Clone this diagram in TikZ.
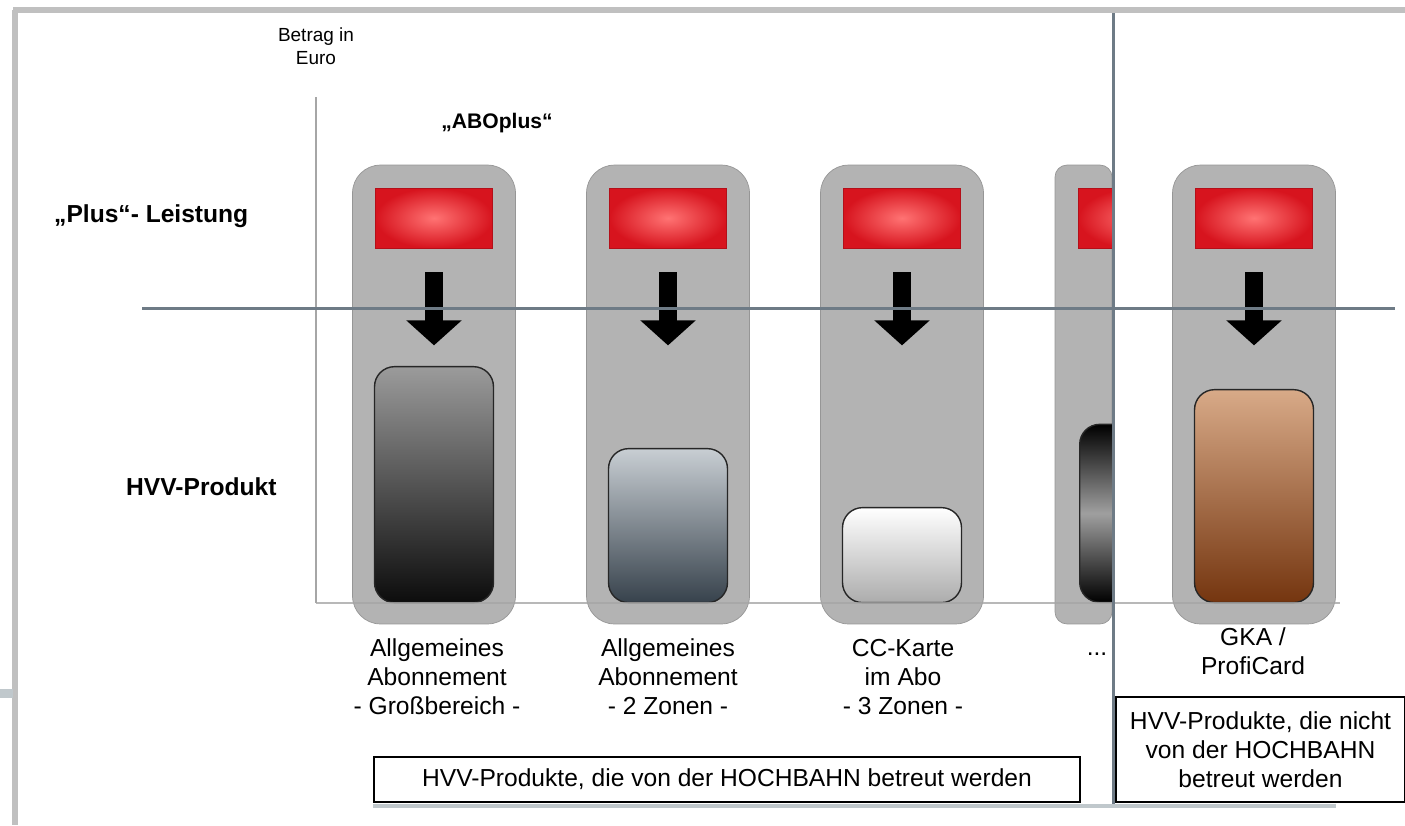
\documentclass[tikz,border=0pt]{standalone}
\usepackage{fontspec}
\setmainfont{Liberation Sans}
\definecolor{CardGray}{RGB}{179,179,179}
\definecolor{CardEdge}{RGB}{150,150,150}
\definecolor{PlusLight}{RGB}{255,115,115}
\definecolor{PlusDark}{RGB}{215,20,30}
\definecolor{PlusEdge}{RGB}{180,15,25}
\definecolor{DividerLine}{RGB}{110,123,134}
\definecolor{FrameGray}{RGB}{192,192,192}
\definecolor{StubGray}{RGB}{192,200,204}
\usetikzlibrary{arrows.meta, positioning}

\tikzset{
  card/.style={draw=CardEdge, fill=CardGray, rounded corners=0.56cm,
    minimum width=3.26cm, minimum height=9.18cm, inner sep=0pt},
  plusbox/.style={draw=PlusEdge, inner color=PlusLight, outer color=PlusDark,
    minimum width=2.34cm, minimum height=1.2cm, inner sep=0pt},
  product/.style={draw=black!85, line width=0.8pt, rounded corners=0.4cm,
    minimum width=2.38cm, inner sep=0pt},
  blockarrow/.style={line width=0.36cm, -{Triangle[width=1.08cm, length=0.5cm]}},
  divider/.style={DividerLine, line width=0.06cm},
  label/.style={align=center, font=\fontsize{14}{16.4}\selectfont},
  heading/.style={font=\fontsize{14}{17}\selectfont\bfseries},
}

\begin{document}
\begin{tikzpicture}[x=0.02cm, y=-0.02cm]
\useasboundingbox (0,0) rectangle (1405,825);

% frame
\draw[FrameGray, line width=0.12cm] (13,10) -- (1405,10);
\draw[FrameGray, line width=0.12cm] (15,10) -- (15,825);
\draw[StubGray, line width=0.18cm] (0,693) -- (13,693);

% value axis
\node[font=\fontsize{10.8}{13}\selectfont, align=center] (betrag) at (316,46) {Betrag in\\Euro};
\draw[gray!70, line width=0.6pt] (316,97) -- (316,603);

% cards
\node[card] (c1) at (434,394.5) {};
\node[card] (c2) at (668,394.5) {};
\node[card] (c3) at (902,394.5) {};
\node[card, minimum width=1.14cm, rounded corners=0.24cm] (c4) at (1083.5,394.5) {};
\node[card] (c5) at (1254,394.5) {};

\node[plusbox, below=0.46cm of c1.north] (p1) {};
\node[plusbox, below=0.46cm of c2.north] (p2) {};
\node[plusbox, below=0.46cm of c3.north] (p3) {};
\node[plusbox, below=0.46cm of c5.north] (p5) {};

\draw[blockarrow] ([yshift=-0.48cm]p1.south) -- ++(0,-1.46cm) coordinate (a1);
\draw[blockarrow] ([yshift=-0.48cm]p2.south) -- ++(0,-1.46cm) coordinate (a2);
\draw[blockarrow] ([yshift=-0.48cm]p3.south) -- ++(0,-1.46cm) coordinate (a3);
\draw[blockarrow] ([yshift=-0.48cm]p5.south) -- ++(0,-1.46cm) coordinate (a5);

\node[product, minimum height=4.72cm, above=0.42cm of c1.south,
  top color={rgb,255:red,155;green,155;blue,155}, bottom color={rgb,255:red,12;green,12;blue,12}] (h1) {};
\node[product, minimum height=3.08cm, above=0.42cm of c2.south,
  top color={rgb,255:red,200;green,206;blue,211}, bottom color={rgb,255:red,55;green,66;blue,76}] (h2) {};
\node[product, minimum height=1.9cm, above=0.42cm of c3.south,
  top color=white, bottom color=gray!65] (h3) {};
\node[product, minimum height=4.26cm, above=0.42cm of c5.south,
  top color={rgb,255:red,216;green,170;blue,136}, bottom color={rgb,255:red,116;green,53;blue,15}] (h5) {};

\begin{scope}
\clip (1050,160) rectangle (1112,630);
\node[plusbox, anchor=north west] (p4) at (1078,188) {};
\node[product, minimum height=3.56cm, anchor=south west,
  top color=black, bottom color=black, middle color=gray!75] (h4) at (1079,603) {};
\end{scope}

% base line and dividers
\draw[gray!70, line width=0.6pt, opacity=0.8] (316,603) -- (1340,603);
\draw[divider] (142,308) -- (1395,308);
\draw[divider] (1113,13) -- (1113,805);

% headings
\node[heading, font=\fontsize{12}{14}\selectfont\bfseries] (abo) at (497,123) {„ABOplus“};
\node[heading, anchor=west] (plus) at (48,216) {„Plus“- Leistung};
\node[heading, anchor=west] (hvv) at (120,487) {HVV-Produkt};

% product names
\node[label] (t1) at (437,677) {Allgemeines\\Abonnement\\- Großbereich -};
\node[label] (t2) at (668,677) {Allgemeines\\Abonnement\\- 2 Zonen -};
\node[label] (t3) at (903,677) {CC-Karte\\im Abo\\- 3 Zonen -};
\node[label] (t4) at (1097,654) {...};
\node[label] (t5) at (1253,651) {GKA /\\ProfiCard};

% groups
\draw[StubGray, line width=0.08cm] (373,806) -- (1336,806);
\node[draw, line width=0.7pt, minimum width=14.12cm, minimum height=0.9cm, label, fill=white] (g1)
  at (727,779.5) {HVV-Produkte, die von der HOCHBAHN betreut werden};
\node[draw, line width=0.7pt, minimum width=5.78cm, minimum height=2.1cm, label, fill=white] (g2)
  at (1260.5,749.5) {HVV-Produkte, die nicht\\von der HOCHBAHN\\betreut werden};

\end{tikzpicture}
\end{document}
